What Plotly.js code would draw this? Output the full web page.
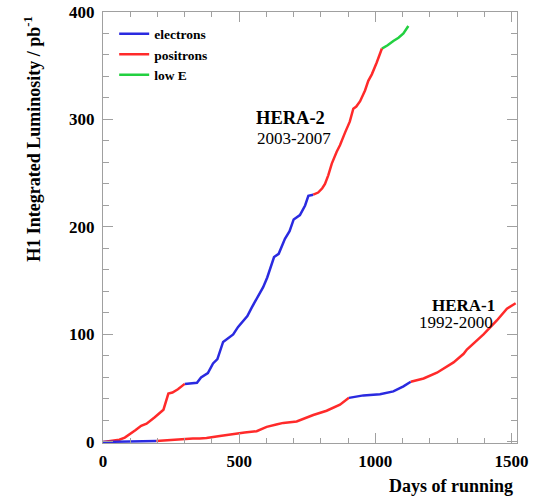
<!DOCTYPE html>
<html>
<head>
<meta charset="utf-8">
<script src="https://cdn.plot.ly/plotly-3.0.1.min.js"></script>
<style>html,body{margin:0;padding:0;background:#fff;}#chart{width:533px;height:500px;}</style>
</head>
<body>
<div id="chart"></div>
<script>
// HERA-2 (2003-2007)
var hera2PosDaysA = [0, 25, 60, 80, 98, 120, 140, 160, 190, 222, 240, 255, 275, 300];
var hera2PosLumiA = [0, 0.6, 2, 4, 7, 11, 15, 17, 23, 30, 45, 46, 49, 54];
var hera2EleDays = [300, 345, 360, 385, 404, 420, 441, 460, 478, 496, 515, 530, 546, 566, 588, 603, 615, 628, 645, 668, 685, 700, 723, 742, 754, 772];
var hera2EleLumi = [54, 55, 60, 64, 73, 77, 93, 97, 100, 107, 113, 117, 125, 134, 144, 153, 162, 172, 175, 189, 196, 207, 211, 220, 229, 230];
var hera2PosDaysB = [772, 790, 805, 815, 827, 840, 858, 870, 889, 906, 919, 930, 944, 962, 974, 987, 1005, 1024];
var hera2PosLumiB = [230, 232, 236, 240, 248, 259, 270, 276, 288, 298, 310, 312, 317, 327, 336, 342, 353, 366];
var hera2LowEDays = [1024, 1045, 1066, 1085, 1103, 1121];
var hera2LowELumi = [366, 369, 373, 376, 380, 387];

// HERA-1 (1992-2000)
var hera1EleDaysA = [0, 50, 100, 150, 196];
var hera1EleLumiA = [0, 0.2, 0.4, 0.6, 0.8];
var hera1PosDaysA = [196, 233, 260, 294, 330, 355, 380, 429, 478, 520, 564, 601, 640, 662, 711, 740, 772, 821, 870, 903];
var hera1PosLumiA = [0.8, 1.5, 2.5, 3, 3.2, 3.3, 3.7, 5.6, 7.7, 8.8, 10, 14, 16.5, 17.7, 19, 22, 25, 29, 34.7, 41];
var hera1EleDaysB = [903, 956, 1017, 1066, 1103, 1130];
var hera1EleLumiB = [41, 43.3, 44.3, 47, 51.7, 56];
var hera1PosDaysB = [1130, 1177, 1226, 1250, 1287, 1324, 1336, 1397, 1446, 1483, 1515];
var hera1PosLumiB = [56, 59, 64.4, 68, 74, 82, 86, 100, 113, 124, 129];

var xTickVals = [0, 500, 1000, 1500];
var xTickText = ['0', '500', '1000', '1500'];
var yTickVals = [0, 100, 200, 300, 400];
var yTickText = ['0', '100', '200', '300', '400'];

var BLUE = '#2a2ae0', RED = '#ff2a2a', GREEN = '#22d040';
var serif = '"Liberation Serif", "Times New Roman", Times, serif';
var AXC = '#a0a0a0';

function bold(s) { return '<b>' + s + '</b>'; }
function range(a, b, step) { var r = []; for (var v = a; v <= b; v += step) r.push(v); return r; }

function seg(x, y, color, name, group, show, rank) {
  return {x: x, y: y, type: 'scatter', mode: 'lines', name: bold(name),
    legendgroup: group, showlegend: show, legendrank: rank,
    line: {color: color, width: 2.5}, hoverinfo: 'skip'};
}

var data = [
  seg(hera2EleDays, hera2EleLumi, BLUE, 'electrons', 'e', true, 1),
  seg(hera2PosDaysA, hera2PosLumiA, RED, 'positrons', 'p', true, 2),
  seg(hera2LowEDays, hera2LowELumi, GREEN, 'low E', 'l', true, 3),
  seg(hera2PosDaysB, hera2PosLumiB, RED, 'positrons', 'p', false, 2),
  seg(hera1EleDaysA, hera1EleLumiA, BLUE, 'electrons', 'e', false, 1),
  seg(hera1PosDaysA, hera1PosLumiA, RED, 'positrons', 'p', false, 2),
  seg(hera1EleDaysB, hera1EleLumiB, BLUE, 'electrons', 'e', false, 1),
  seg(hera1PosDaysB, hera1PosLumiB, RED, 'positrons', 'p', false, 2)
];

function axisCommon() {
  return {
    showline: true, linecolor: AXC, linewidth: 1, mirror: 'ticks',
    ticks: 'inside', ticklen: 10, tickcolor: AXC, tickwidth: 1,
    showgrid: false, zeroline: false, fixedrange: true, tickmode: 'array',
    tickfont: {family: serif, size: 17, color: '#000'}
  };
}

var layout = {
  width: 533, height: 500,
  font: {family: serif, size: 17, color: '#000'},
  margin: {l: 103, r: 16, t: 12, b: 57},
  paper_bgcolor: '#fff', plot_bgcolor: '#fff',
  showlegend: true,
  legend: {x: 0.027, y: 0.985, xanchor: 'left', yanchor: 'top',
    bgcolor: 'rgba(0,0,0,0)', borderwidth: 0,
    font: {family: serif, size: 13.5, color: '#000'},
    traceorder: 'normal'},
  xaxis: Object.assign(axisCommon(), {
    range: [0, 1520], tickvals: xTickVals, ticktext: xTickText.map(bold),
    minor: {tickmode: 'array', tickvals: range(0, 1500, 100), ticks: 'inside', ticklen: 5, tickcolor: AXC, showgrid: false},
    ticklabelstandoff: 3
  }),
  yaxis: Object.assign(axisCommon(), {
    range: [-1, 400], tickvals: yTickVals, ticktext: yTickText.map(bold),
    minor: {tickmode: 'array', tickvals: range(0, 400, 20), ticks: 'inside', ticklen: 6, tickcolor: AXC, showgrid: false},
    ticklabelstandoff: 4
  }),
  annotations: [
    {xref: 'x', yref: 'y', x: 688, y: 301, text: '<b>HERA-2</b>', showarrow: false,
      font: {family: serif, size: 18.5, color: '#000'}},
    {xref: 'x', yref: 'y', x: 701, y: 282, text: '2003-2007', showarrow: false,
      font: {family: serif, size: 17, color: '#000'}},
    {xref: 'x', yref: 'y', x: 1322, y: 127, text: '<b>HERA-1</b>', showarrow: false,
      font: {family: serif, size: 17, color: '#000'}},
    {xref: 'x', yref: 'y', x: 1297, y: 111, text: '1992-2000', showarrow: false,
      font: {family: serif, size: 17, color: '#000'}},
    {xref: 'paper', yref: 'paper', x: 0.995, y: -0.073, xanchor: 'right', yanchor: 'top',
      text: '<b>Days of running</b>', showarrow: false,
      font: {family: serif, size: 18, color: '#000'}},
    {xref: 'paper', yref: 'paper', x: -0.17, y: 0.995, xanchor: 'center', yanchor: 'top',
      textangle: -90, text: '<b>H1 Integrated Luminosity / pb<sup>-1</sup></b>', showarrow: false,
      font: {family: serif, size: 18, color: '#000'}}
  ]
};

Plotly.newPlot('chart', data, layout, {staticPlot: true, displayModeBar: false});
</script>
</body>
</html>
